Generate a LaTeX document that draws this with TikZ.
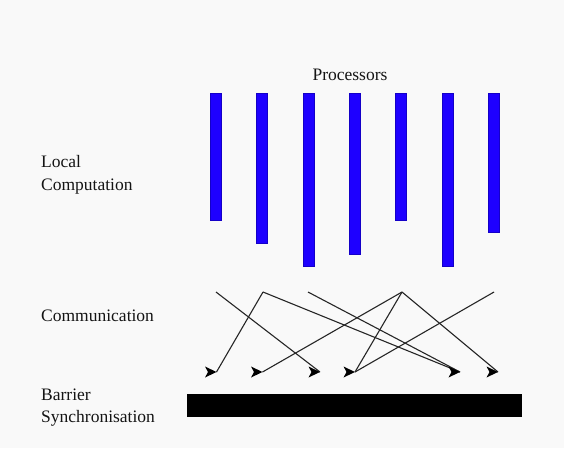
\documentclass[tikz,border=0pt]{standalone}
\usepackage{fontspec}
\setmainfont{Liberation Serif}
\definecolor{canvas}{RGB}{249,249,249}
\definecolor{procfill}{RGB}{30,0,255}
\definecolor{procline}{RGB}{20,0,200}
\begin{document}
\begin{tikzpicture}[x=1pt,y=-1pt,
  lbl/.style={anchor=base west,inner sep=0pt,font=\fontsize{17.5}{22}\selectfont,text=black!92},
  proc/.style={draw=procline,line width=0.6pt,fill=procfill,
    minimum width=11pt,inner sep=0pt,anchor=north},
  msg/.style={draw=black!85,line width=1.1pt},
  headtip/.style={fill=black}]
  % canvas
  \fill[canvas] (0,0) rectangle (564,448);
  \useasboundingbox (0,0) rectangle (564,448);

  % labels
  \node[lbl,anchor=base] (ttl) at (350,80) {Processors};
  \node[lbl] (lc1) at (41,167.5) {Local};
  \node[lbl] (lc2) at (41,190) {Computation};
  \node[lbl] (com) at (41,321) {Communication};
  \node[lbl] (br1) at (41,400.5) {Barrier};
  \node[lbl] (br2) at (41,422.5) {Synchronisation};

  % local computation on each processor
  \node[proc,minimum height=127pt] (p1) at (216,93) {};
  \node[proc,minimum height=150pt] (p2) at (262,93) {};
  \node[proc,minimum height=173pt] (p3) at (308.5,93) {};
  \node[proc,minimum height=161pt] (p4) at (354.5,93) {};
  \node[proc,minimum height=127pt] (p5) at (401,93) {};
  \node[proc,minimum height=173pt] (p6) at (447.5,93) {};
  \node[proc,minimum height=139pt] (p7) at (494,93) {};

  % message sources
  \coordinate (s1) at (216,292);
  \coordinate (s2) at (263,292);
  \coordinate (s3) at (308,292);
  \coordinate (s4) at (402,292);
  \coordinate (s5) at (494,292);
  % message destinations
  \coordinate (t1) at (216.5,372);
  \coordinate (t2) at (262.5,372);
  \coordinate (t3) at (320,372);
  \coordinate (t4) at (355,372);
  \coordinate (t5) at (460,372);
  \coordinate (t6) at (498,372);

  % messages
  \draw[msg] (s1) -- (t3);
  \draw[msg] (s2) -- (t1);
  \draw[msg] (s2) -- (t5);
  \draw[msg] (s3) -- (t5);
  \draw[msg] (s4) -- (t2);
  \draw[msg] (s4) -- (t4);
  \draw[msg] (s4) -- (t6);
  \draw[msg] (s5) -- (t4);

  % arrow heads
  \foreach \t in {t1,t2,t3,t4,t5,t6}
    \fill[headtip] (\t) -- ++(-11.5,-5.5) -- ++(3,5.5) -- ++(-3,5.5) -- cycle;

  % barrier
  \node[fill=black,inner sep=0pt,minimum width=335pt,minimum height=23pt] (bar) at (354.5,405.5) {};
\end{tikzpicture}
\end{document}
